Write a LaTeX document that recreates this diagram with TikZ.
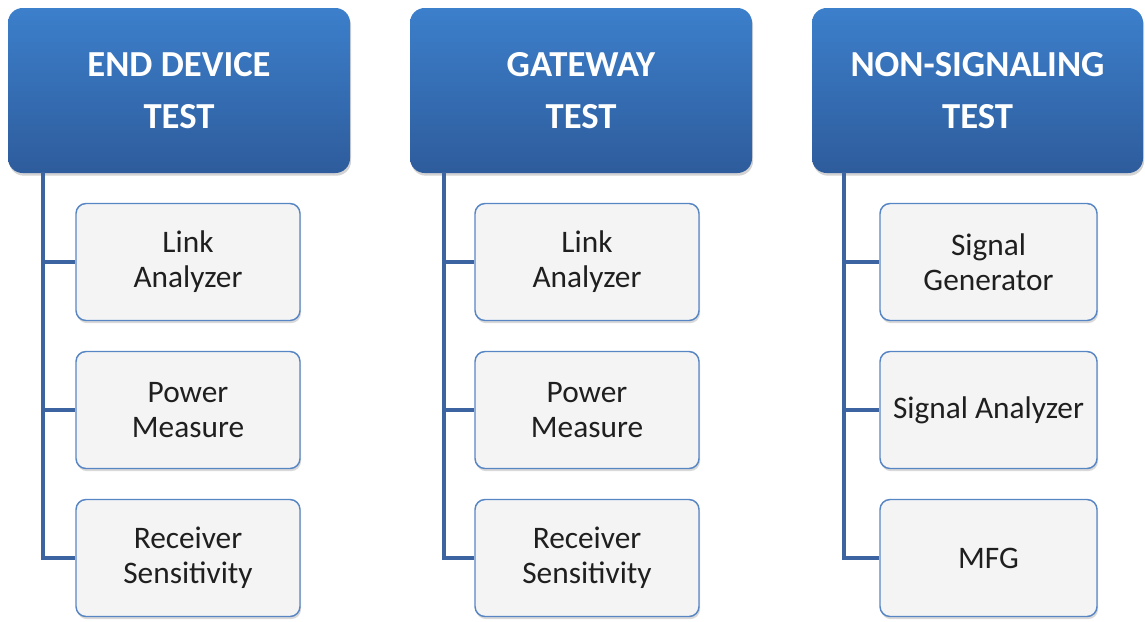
\documentclass[tikz,border=0pt]{standalone}
\usepackage{fontspec}
\setmainfont{Carlito}
\usepackage{tikz}
\usetikzlibrary{shadows}
\definecolor{headtop}{RGB}{60,127,203}
\definecolor{headbot}{RGB}{46,92,156}
\definecolor{boxline}{RGB}{88,134,196}
\definecolor{boxfill}{RGB}{244,244,244}
\definecolor{trunkcol}{RGB}{60,100,160}
\tikzstyle{header}=[rounded corners=11pt,top color=headtop,bottom color=headbot,draw=none,
  text=white,font=\fontsize{27.5}{39}\selectfont\bfseries,align=center,
  minimum height=123.75pt,inner sep=0pt,
  drop shadow={shadow xshift=0.8pt,shadow yshift=-2pt,opacity=0.35}]
\tikzstyle{item}=[rounded corners=7.5pt,fill=boxfill,draw=boxline,line width=1.1pt,
  text=black!88,font=\fontsize{23.5}{26.25}\selectfont,align=center,
  minimum width=168pt,minimum height=87.75pt,inner sep=0pt,
  drop shadow={shadow xshift=0.8pt,shadow yshift=-2pt,opacity=0.3}]
\tikzstyle{trunk}=[-,draw=trunkcol,line width=3.6pt,line join=miter]

\begin{document}
\begin{tikzpicture}[x=0.75pt,y=-0.75pt]
  \useasboundingbox (0,0) rectangle (1145,621);
  % end device column
  \node [style=header,minimum width=256.5pt] (0) at (179,90.5) {END DEVICE\\TEST};
  \node [style=item] (1) at (188,262) {Link\\Analyzer};
  \node [style=item] (2) at (188,410) {Power\\Measure};
  \node [style=item] (3) at (188,558) {Receiver\\Sensitivity};
  \coordinate (4) at (43,172);
  % gateway column
  \node [style=header,minimum width=256.5pt] (5) at (581,90.5) {GATEWAY\\TEST};
  \node [style=item] (6) at (587,262) {Link\\Analyzer};
  \node [style=item] (7) at (587,410) {Power\\Measure};
  \node [style=item] (8) at (587,558) {Receiver\\Sensitivity};
  \coordinate (9) at (444,172);
  % non-signaling column
  \node [style=header,minimum width=248.25pt] (10) at (977.5,90.5) {NON-SIGNALING\\TEST};
  \node [style=item,minimum width=162.75pt] (11) at (988.5,262) {Signal\\Generator};
  \node [style=item,minimum width=162.75pt] (12) at (988.5,410) {Signal Analyzer};
  \node [style=item,minimum width=162.75pt] (13) at (988.5,558) {MFG};
  \coordinate (14) at (844,172);
  \draw [style=trunk] (4) |- (3.west);
  \draw [style=trunk] (4 |- 1.west) -- (1.west);
  \draw [style=trunk] (4 |- 2.west) -- (2.west);
  \draw [style=trunk] (9) |- (8.west);
  \draw [style=trunk] (9 |- 6.west) -- (6.west);
  \draw [style=trunk] (9 |- 7.west) -- (7.west);
  \draw [style=trunk] (14) |- (13.west);
  \draw [style=trunk] (14 |- 11.west) -- (11.west);
  \draw [style=trunk] (14 |- 12.west) -- (12.west);
\end{tikzpicture}
\end{document}
